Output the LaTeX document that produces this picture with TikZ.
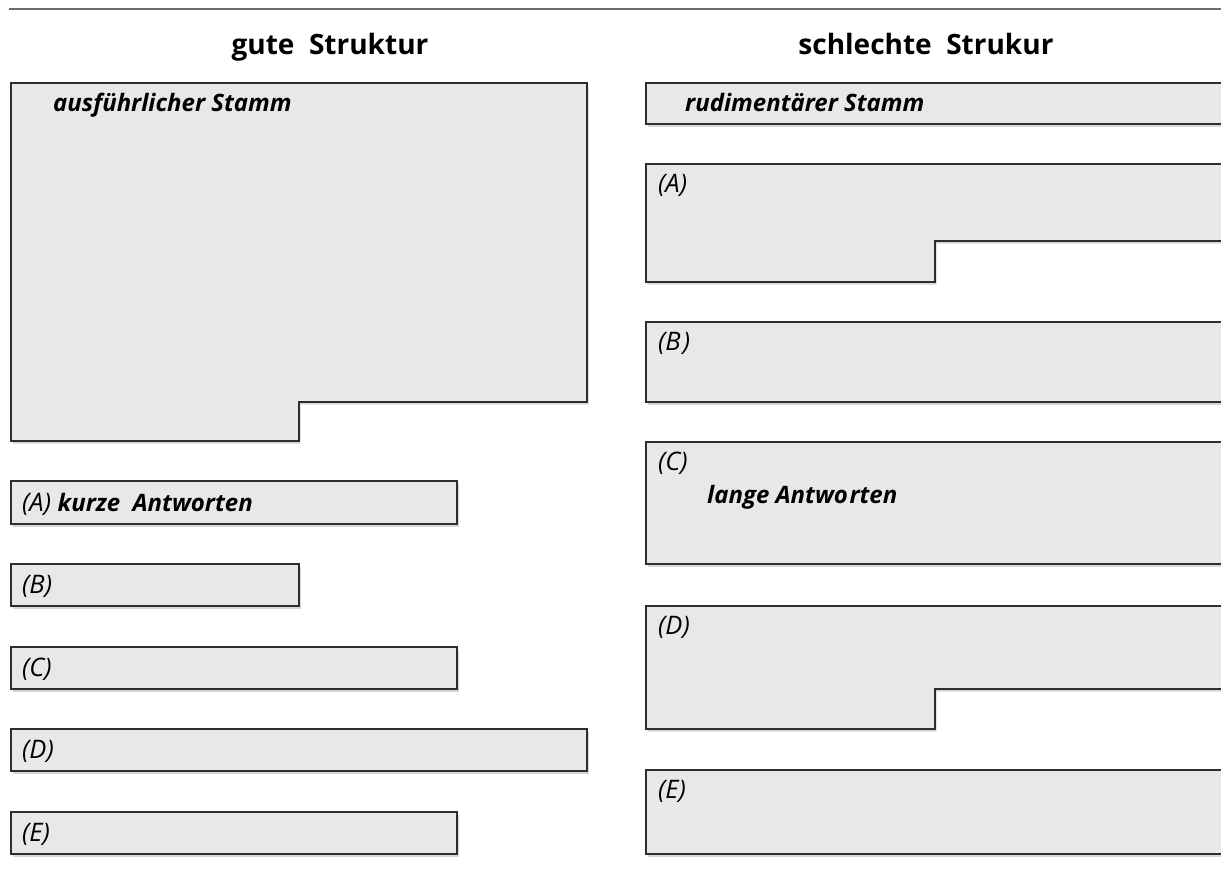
\documentclass[tikz,border=0pt]{standalone}
\usepackage{fontspec}
\setmainfont{Open Sans}
\definecolor{boxgray}{HTML}{E8E8E8}
\definecolor{boxline}{HTML}{2E2E2E}
\definecolor{topgray}{HTML}{6E6E6E}
\definecolor{shadowgray}{HTML}{D6D6D6}
\newcommand{\boldlbl}[1]{{\fontsize{24}{28}\selectfont\bfseries #1}}
\begin{document}
\begin{tikzpicture}[x=1pt,y=-1pt,
  boxx/.style={fill=boxgray, draw=boxline, line width=1.1pt, line join=miter},
  shadowx/.style={fill=shadowgray, draw=none, shift={(1.5,2.5)}},
  lbl/.style={anchor=base west, inner sep=0pt, font=\fontsize{25.5}{30}\selectfont\itshape},
  lblb/.style={anchor=base west, inner sep=0pt, font=\fontsize{24}{28}\selectfont\bfseries\itshape},
  ttl/.style={anchor=base, inner sep=0pt, font=\fontsize{28}{32}\selectfont\bfseries}]
\useasboundingbox (0,0) rectangle (1221,886);
\clip (0,0) rectangle (1221,886);
\fill[white] (0,0) rectangle (1221,886);
% top rule
\draw[topgray, line width=1.4pt] (9,9) -- (1230,9);
% titles
\node[ttl] (t1) at (330,54) {gute\ \ Struktur};
\node[ttl] (t2) at (926,54) {schlechte\ \ Strukur};
% ---- shapes (shadow, then box) ----
\foreach \s in {shadowx,boxx}{
  % left column
  \path[\s] (11,83) -- (587,83) -- (587,402) -- (299,402) -- (299,441) -- (11,441) -- cycle;
  \path[\s] (11,481) rectangle (457,524);
  \path[\s] (11,564) rectangle (299,606);
  \path[\s] (11,647) rectangle (457,689);
  \path[\s] (11,729) rectangle (587,771);
  \path[\s] (11,812) rectangle (457,854);
  % right column
  \path[\s] (646,83) rectangle (1240,124);
  \path[\s] (646,164) -- (1240,164) -- (1240,241) -- (935,241) -- (935,282) -- (646,282) -- cycle;
  \path[\s] (646,322) rectangle (1240,402);
  \path[\s] (646,442) rectangle (1240,564);
  \path[\s] (646,606) -- (1240,606) -- (1240,689) -- (935,689) -- (935,729) -- (646,729) -- cycle;
  \path[\s] (646,770) rectangle (1240,854);
}
% ---- left texts ----
\node[lblb] (lstem) at (53,111) {ausführlicher Stamm};
\node[lbl] (la) at (22,511) {(A) \boldlbl{kurze\ \ Antworten}};
\node[lbl] (lb) at (22,593) {(B)};
\node[lbl] (lc) at (22,676) {(C)};
\node[lbl] (ld) at (22,758) {(D)};
\node[lbl] (le) at (22,841) {(E)};
% ---- right texts ----
\node[lblb] (rstem) at (685,111) {rudimentärer Stamm};
\node[lbl] (ra) at (658,192) {(A)};
\node[lbl] (rb) at (658,350) {(B\kern2pt)};
\node[lbl] (rc) at (658,470) {(C)};
\node[lblb] (rc2) at (707,503) {lange Antwo\kern1.5pt rten};
\node[lbl] (rd) at (658,634) {(D)};
\node[lbl] (re) at (658,798) {(E)};
\end{tikzpicture}
\end{document}
